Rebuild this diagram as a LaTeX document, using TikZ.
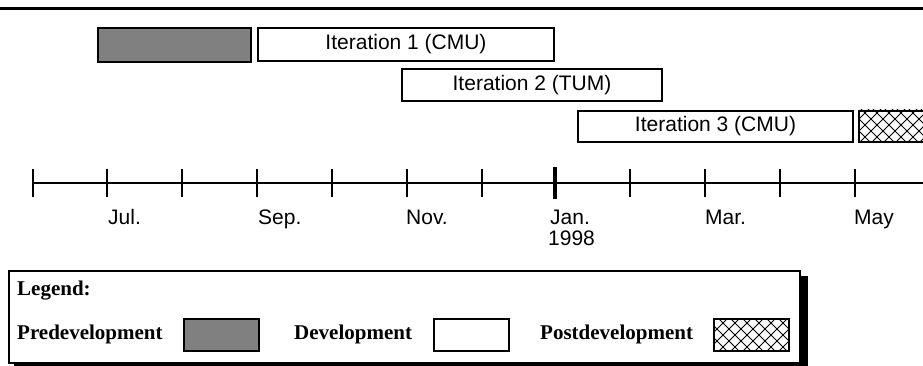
\documentclass[tikz,border=0pt]{standalone}
\usepackage{fontspec}
\setmainfont{Liberation Sans}
\newfontfamily\legfont{Liberation Serif}
\definecolor{predev}{RGB}{128,128,128}
\begin{document}
\begin{tikzpicture}[x=1pt,y=-1pt,
  bar/.style={draw,line width=2pt,inner sep=0pt,anchor=north west,font=\fontsize{21}{21}\selectfont},
  predevbar/.style={bar,fill=predev},
  monthlbl/.style={anchor=base west,inner sep=0pt,font=\fontsize{21}{21}\selectfont},
  leglbl/.style={anchor=base west,inner sep=0pt,font=\legfont\bfseries\fontsize{21}{21}\selectfont},
  legbox/.style={draw,line width=2pt,inner sep=0pt,anchor=north west,minimum width=75pt,minimum height=32pt},
  hatchline/.style={line width=0.8pt},
  tickline/.style={line width=1.5pt},
  axisline/.style={line width=2pt}]
\useasboundingbox (0,0) rectangle (923,366);
% top rule
\draw[line width=3pt] (0,8.7) -- (923,8.7);
% bars
\node[predevbar,minimum width=153pt,minimum height=34pt] (pre) at (97,27) {};
\node[bar,minimum width=296pt,minimum height=33pt] (it1) at (257,27) {Iteration 1 (CMU)};
\node[bar,minimum width=260pt,minimum height=32pt] (it2) at (401,68) {Iteration 2 (TUM)};
\node[bar,minimum width=275pt,minimum height=31pt] (it3) at (577,110) {Iteration 3 (CMU)};
% postdevelopment bar (hatched, runs off the edge)
\begin{scope}
  \clip (858,110) rectangle (935,141);
  \foreach \x in {780,792,...,940} {
    \draw[hatchline] (\x,100) -- ++(50,50);
    \draw[hatchline] (\x,150) -- ++(50,-50);
  }
\end{scope}
\node[bar,minimum width=77pt,minimum height=31pt] (post) at (858,110) {};
% time axis
\draw[axisline] (33,183) -- (923,183);
\foreach \x in {33,107,182,257,332,407,482,630,705,780,855}
  \draw[tickline] (\x,169) -- (\x,197);
\draw[line width=4.5pt] (555,167) -- (555,199);
\node[monthlbl] (jul) at (108,224) {Jul.};
\node[monthlbl] (sep) at (258,224) {Sep.};
\node[monthlbl] (nov) at (406,224) {Nov.};
\node[monthlbl] (jan) at (550,224) {Jan.};
\node[monthlbl] (yr) at (548,245) {1998};
\node[monthlbl] (mar) at (705,224) {Mar.};
\node[monthlbl] (may) at (854,224) {May};
% legend
\fill[black] (14,276) rectangle (808,366);
\draw[line width=2pt,fill=white] (9,271) rectangle (800,363);
\node[leglbl] (legend) at (17,295) {Legend:};
\node[leglbl] (lpre) at (17,339) {Predevelopment};
\node[legbox,fill=predev] (bpre) at (183,318) {};
\node[leglbl] (ldev) at (294,339) {Development};
\node[legbox] (bdev) at (433,318) {};
\node[leglbl] (lpost) at (540,339) {Postdevelopment};
\begin{scope}
  \clip (713,318) rectangle (788,350);
  \foreach \x in {650,662,...,800} {
    \draw[hatchline] (\x,310) -- ++(50,50);
    \draw[hatchline] (\x,360) -- ++(50,-50);
  }
\end{scope}
\node[legbox] (bpost) at (713,318) {};
\end{tikzpicture}
\end{document}
